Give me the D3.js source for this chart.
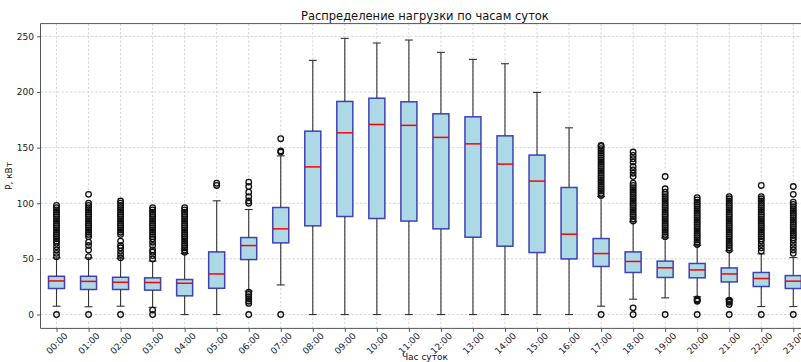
<!DOCTYPE html>
<html>
<head>
<meta charset="utf-8">
<script src="https://cdn.jsdelivr.net/npm/d3@7"></script>
<style>
  html, body { margin: 0; padding: 0; background: #fff; }
  svg { display: block; font-family: "DejaVu Sans", sans-serif; }
</style>
</head>
<body>
<svg id="chart" width="801" height="362"></svg>
<script>
// Hourly load distribution (kW), one box per hour of the day
const hours = ["00:00","01:00","02:00","03:00","04:00","05:00","06:00","07:00",
               "08:00","09:00","10:00","11:00","12:00","13:00","14:00","15:00",
               "16:00","17:00","18:00","19:00","20:00","21:00","22:00","23:00"];

const whiskerLow  = [7.5, 7, 7.5, 6.5, 0, 0, 21, 26.6, 0, 0, 0, 0, 0, 0, 0, 0, 0, 7.5, 13.8, 15, 15.9, 13.8, 7.2, 7.2];
const q1          = [23.4, 22.5, 22.5, 21.9, 16.8, 23.6, 49.4, 64.4, 79.7, 88.1, 86.3, 84, 77, 69.5, 61.4, 55.7, 50, 43.2, 37.8, 33.3, 33, 29.3, 25.2, 23.4];
const median      = [30.2, 29.8, 29, 28.8, 28.1, 36.5, 62, 77, 132.7, 163.3, 170.8, 170, 159.2, 153.4, 135.2, 119.9, 72.2, 54.8, 47.7, 42, 40.1, 36.5, 32.4, 30];
const q3          = [34.4, 34.4, 33.5, 33, 31.5, 56.3, 69.2, 96.2, 164.8, 191.5, 194.4, 191.2, 180.4, 177.7, 160.6, 143.3, 114.2, 68.3, 56.3, 48, 45.9, 41.9, 37.8, 35];
const whiskerHigh = [51, 51, 50.5, 48, 54.8, 102.2, 94.4, 142.6, 228.4, 248.2, 244, 246.7, 235.6, 229.3, 225.4, 199.6, 167.8, 106, 83.3, 68.9, 62.3, 57.2, 54.5, 51.2];

const fliers = [
  [0, 52, 55, 58, 61, 64, 66, 68, 70, 72, 74, 76, 78, 80, 82, 84, 86, 88, 90, 92, 94, 96, 98],
  [0, 52, 58, 62, 65, 70, 72, 74, 76, 78, 80, 82, 84, 86, 88, 90, 92, 94, 96, 98, 100, 108],
  [0, 51, 54, 57, 60, 62, 66, 72, 74, 76, 78, 80, 82, 84, 86, 88, 90, 92, 94, 96, 98, 100, 102],
  [0, 4, 50, 53, 56, 58, 62, 65, 68, 70, 72, 74, 76, 78, 80, 82, 84, 86, 88, 90, 92, 94, 96],
  [56, 58, 60, 62, 64, 66, 68, 70, 72, 74, 76, 78, 80, 82, 84, 86, 88, 90, 92, 94, 96],
  [116, 118],
  [0, 10, 12, 14, 16, 18, 20, 100, 102, 106, 110, 115, 119],
  [0, 146, 147, 158],
  [], [], [], [], [], [], [], [], [],
  [0, 107, 109, 111, 113, 115, 117, 119, 121, 123, 125, 127, 129, 131, 133, 135, 137, 139, 141, 143, 145, 147, 149, 151, 152],
  [0, 6, 84, 86, 88, 90, 92, 94, 96, 98, 100, 102, 104, 106, 108, 110, 112, 114, 116, 118, 124, 127, 130, 133, 137, 140, 143, 146],
  [0, 70, 72, 74, 76, 78, 80, 82, 84, 86, 88, 90, 92, 94, 96, 98, 100, 102, 104, 106, 108, 110, 113, 124],
  [0, 12, 13, 14, 63, 65, 67, 69, 71, 73, 75, 77, 79, 81, 83, 85, 87, 89, 91, 93, 95, 97, 99, 101, 103, 105],
  [0, 9, 11, 12, 13, 58, 60, 62, 64, 66, 68, 70, 72, 74, 76, 78, 80, 82, 84, 86, 88, 90, 92, 94, 96, 98, 100, 102, 104, 106],
  [0, 57, 60, 63, 66, 68, 70, 72, 74, 76, 78, 80, 82, 84, 86, 88, 90, 92, 94, 96, 98, 100, 102, 104, 106, 116],
  [0, 55, 58, 61, 64, 67, 69, 71, 73, 75, 77, 79, 81, 83, 85, 87, 89, 91, 93, 95, 97, 99, 101, 108, 115]
];

const yTicks = [0, 50, 100, 150, 200, 250];

const svg = d3.select("#chart");
const plot = { left: 40.5, right: 809.3, top: 23.6, bottom: 328.4 };

// positions 1..24 like a classic boxplot, half-unit padding on each side
const x = d3.scaleLinear().domain([0.5, 24.5]).range([plot.left, plot.right]);
const y = d3.scaleLinear().domain([-12.45, 261.45]).range([plot.bottom, plot.top]);
const boxW = x(1.5) - x(1.25); // half-width of a 0.5-unit box
const capW = boxW / 2;

const data = hours.map((h, i) => ({
  hour: h, pos: i + 1,
  lo: whiskerLow[i], q1: q1[i], med: median[i], q3: q3[i], hi: whiskerHigh[i],
  out: fliers[i]
}));

// grid
const grid = svg.append("g").attr("stroke", "#cccccc").attr("stroke-width", 0.8)
  .attr("stroke-dasharray", "2.4,1.8");
grid.selectAll("line.gy").data(yTicks).join("line")
  .attr("x1", plot.left).attr("x2", plot.right)
  .attr("y1", d => y(d)).attr("y2", d => y(d));
grid.selectAll("line.gx").data(data).join("line")
  .attr("x1", d => x(d.pos)).attr("x2", d => x(d.pos))
  .attr("y1", plot.top).attr("y2", plot.bottom);

// boxes
const g = svg.append("g");
const box = g.selectAll("g.box").data(data).join("g").attr("class", "box");

const whiskerStyle = sel => sel.attr("stroke", "#333").attr("stroke-width", 1.1);
box.append("line") // lower whisker
  .attr("x1", d => x(d.pos)).attr("x2", d => x(d.pos))
  .attr("y1", d => y(d.lo)).attr("y2", d => y(d.q1)).call(whiskerStyle);
box.append("line") // upper whisker
  .attr("x1", d => x(d.pos)).attr("x2", d => x(d.pos))
  .attr("y1", d => y(d.q3)).attr("y2", d => y(d.hi)).call(whiskerStyle);
box.append("line") // lower cap
  .attr("x1", d => x(d.pos) - capW).attr("x2", d => x(d.pos) + capW)
  .attr("y1", d => y(d.lo)).attr("y2", d => y(d.lo)).call(whiskerStyle);
box.append("line") // upper cap
  .attr("x1", d => x(d.pos) - capW).attr("x2", d => x(d.pos) + capW)
  .attr("y1", d => y(d.hi)).attr("y2", d => y(d.hi)).call(whiskerStyle);

box.append("rect")
  .attr("x", d => x(d.pos) - boxW).attr("width", 2 * boxW)
  .attr("y", d => y(d.q3)).attr("height", d => y(d.q1) - y(d.q3))
  .attr("fill", "#add8e6").attr("stroke", "#2525a8").attr("stroke-width", 1.5)
  .attr("stroke-opacity", 0.85);

box.append("line") // median
  .attr("x1", d => x(d.pos) - boxW).attr("x2", d => x(d.pos) + boxW)
  .attr("y1", d => y(d.med)).attr("y2", d => y(d.med))
  .attr("stroke", "#ff0000").attr("stroke-width", 1.5);

box.selectAll("circle").data(d => d.out.map(v => ({ pos: d.pos, v })))
  .join("circle")
  .attr("cx", d => x(d.pos)).attr("cy", d => y(d.v)).attr("r", 2.8)
  .attr("fill", "none").attr("stroke", "#111").attr("stroke-width", 1.3);

// spines
const spine = svg.append("g").attr("stroke", "#555").attr("stroke-width", 1).attr("fill", "none");
spine.append("line").attr("x1", plot.left).attr("x2", plot.left).attr("y1", plot.top).attr("y2", plot.bottom);
spine.append("line").attr("x1", plot.left).attr("x2", plot.right).attr("y1", plot.bottom).attr("y2", plot.bottom);
spine.append("line").attr("x1", plot.left).attr("x2", plot.right).attr("y1", plot.top).attr("y2", plot.top);

// y axis
const yAxis = svg.append("g").attr("transform", `translate(${plot.left},0)`)
  .call(d3.axisLeft(y).tickValues(yTicks).tickSize(3.5).tickPadding(3));
yAxis.select(".domain").remove();
yAxis.selectAll("line").attr("stroke", "#555");
yAxis.selectAll("text").attr("font-size", 9).attr("fill", "#222")
  .attr("font-family", "DejaVu Sans, sans-serif");

// x axis with rotated hour labels
const xAxis = svg.append("g").attr("transform", `translate(0,${plot.bottom})`)
  .call(d3.axisBottom(x).tickValues(data.map(d => d.pos)).tickFormat((d, i) => hours[i]).tickSize(3.5));
xAxis.select(".domain").remove();
xAxis.selectAll("line").attr("stroke", "#555");
xAxis.selectAll("text")
  .attr("font-size", 9).attr("fill", "#222").attr("font-family", "DejaVu Sans, sans-serif")
  .attr("text-anchor", "middle").attr("dy", null).attr("y", 0)
  .attr("dominant-baseline", "central")
  .attr("transform", "translate(0,15) rotate(-45)");

// titles
svg.append("text").attr("x", (plot.left + plot.right) / 2).attr("y", 20)
  .attr("text-anchor", "middle").attr("font-size", 11.5).attr("fill", "#111")
  .text("Распределение нагрузки по часам суток");
svg.append("text").attr("x", (plot.left + plot.right) / 2).attr("y", 359.5)
  .attr("text-anchor", "middle").attr("font-size", 9).attr("fill", "#111")
  .text("Час суток");
svg.append("text")
  .attr("transform", `translate(12,${(plot.top + plot.bottom) / 2}) rotate(-90)`)
  .attr("text-anchor", "middle").attr("font-size", 9).attr("fill", "#111")
  .text("P, кВт");
</script>
</body>
</html>
